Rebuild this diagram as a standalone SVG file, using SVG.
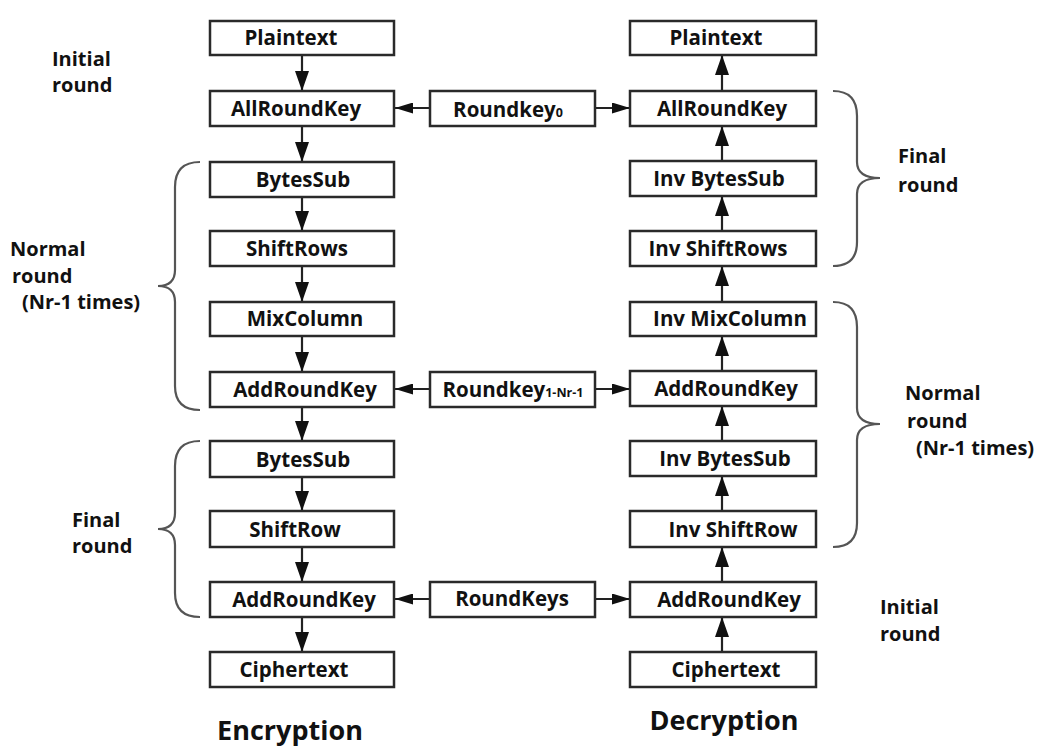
<svg xmlns="http://www.w3.org/2000/svg" width="1042" height="746" viewBox="0 0 1042 746">
<defs>
<style>
.box{fill:#fff;stroke:#2a2a2a;stroke-width:2.5}
.t{font-family:"Open Sans","Liberation Sans",sans-serif;font-weight:700;font-size:20.5px;fill:#111;text-anchor:middle}
.lb{font-family:"Open Sans","Liberation Sans",sans-serif;font-weight:700;font-size:20px;fill:#111}
.big{font-family:"Open Sans","Liberation Sans",sans-serif;font-weight:700;font-size:27px;fill:#111;text-anchor:middle}
.sub{font-size:12.5px}
.ln{stroke:#222;stroke-width:2.2;fill:none}
.brace{stroke:#555;stroke-width:2.2;fill:none}
</style>
<marker id="av" viewBox="0 0 20 14" refX="20" refY="7" markerWidth="20" markerHeight="14" markerUnits="userSpaceOnUse" orient="auto">
<path d="M0,0 L20,7 L0,14 Z" fill="#111"/>
</marker>
<marker id="ah" viewBox="0 0 18 11" refX="18" refY="5.5" markerWidth="18" markerHeight="11" markerUnits="userSpaceOnUse" orient="auto">
<path d="M0,0 L18,5.5 L0,11 Z" fill="#111"/>
</marker>
</defs>
<rect width="1042" height="746" fill="#fff"/>

<g id="connectors">
<line class="ln" x1="302" y1="55" x2="302" y2="91" marker-end="url(#av)"/>
<line class="ln" x1="302" y1="126" x2="302" y2="162" marker-end="url(#av)"/>
<line class="ln" x1="302" y1="197" x2="302" y2="231" marker-end="url(#av)"/>
<line class="ln" x1="302" y1="266" x2="302" y2="302" marker-end="url(#av)"/>
<line class="ln" x1="302" y1="336" x2="302" y2="372" marker-end="url(#av)"/>
<line class="ln" x1="302" y1="407" x2="302" y2="441" marker-end="url(#av)"/>
<line class="ln" x1="302" y1="477" x2="302" y2="511" marker-end="url(#av)"/>
<line class="ln" x1="302" y1="547" x2="302" y2="582" marker-end="url(#av)"/>
<line class="ln" x1="302" y1="617" x2="302" y2="652" marker-end="url(#av)"/>
<line class="ln" x1="722" y1="91" x2="722" y2="55" marker-end="url(#av)"/>
<line class="ln" x1="722" y1="161" x2="722" y2="126" marker-end="url(#av)"/>
<line class="ln" x1="722" y1="231" x2="722" y2="196" marker-end="url(#av)"/>
<line class="ln" x1="722" y1="302" x2="722" y2="266" marker-end="url(#av)"/>
<line class="ln" x1="722" y1="371" x2="722" y2="336" marker-end="url(#av)"/>
<line class="ln" x1="722" y1="441" x2="722" y2="406" marker-end="url(#av)"/>
<line class="ln" x1="722" y1="511" x2="722" y2="476" marker-end="url(#av)"/>
<line class="ln" x1="722" y1="582" x2="722" y2="547" marker-end="url(#av)"/>
<line class="ln" x1="722" y1="652" x2="722" y2="617" marker-end="url(#av)"/>
<line class="ln" x1="430" y1="108" x2="395" y2="108" marker-end="url(#ah)"/>
<line class="ln" x1="595" y1="108" x2="630" y2="108" marker-end="url(#ah)"/>
<line class="ln" x1="430" y1="389" x2="395" y2="389" marker-end="url(#ah)"/>
<line class="ln" x1="595" y1="389" x2="630" y2="389" marker-end="url(#ah)"/>
<line class="ln" x1="430" y1="599" x2="395" y2="599" marker-end="url(#ah)"/>
<line class="ln" x1="595" y1="599" x2="630" y2="599" marker-end="url(#ah)"/>
</g>

<g id="braces">
<path class="brace" d="M200,162 Q175,162 175,187 L175,270 Q175,286 158,286 Q175,286 175,302 L175,386 Q175,410 200,410"/>
<path class="brace" d="M200,441 Q175,441 175,466 L175,513 Q175,529 158,529 Q175,529 175,545 L175,593 Q175,617 200,617"/>
<path class="brace" d="M833,91 Q857,91 857,116 L857,162 Q857,178 880,178 Q857,178 857,194 L857,242 Q857,266 833,266"/>
<path class="brace" d="M833,302 Q857,302 857,327 L857,408 Q857,424 880,424 Q857,424 857,440 L857,523 Q857,547 833,547"/>
</g>

<g id="enc-plaintext"><rect class="box" x="210" y="21" width="184" height="34"/><text class="t" x="291" y="45">Plaintext</text></g>
<g id="enc-allroundkey"><rect class="box" x="210" y="91" width="184" height="35"/><text class="t" x="296" y="116">AllRoundKey</text></g>
<g id="enc-bytessub1"><rect class="box" x="210" y="162" width="184" height="35"/><text class="t" x="303" y="187">BytesSub</text></g>
<g id="enc-shiftrows"><rect class="box" x="210" y="231" width="184" height="35"/><text class="t" x="297" y="256">ShiftRows</text></g>
<g id="enc-mixcolumn"><rect class="box" x="210" y="302" width="184" height="34"/><text class="t" x="305" y="326">MixColumn</text></g>
<g id="enc-addroundkey1"><rect class="box" x="210" y="372" width="184" height="35"/><text class="t" x="305" y="397">AddRoundKey</text></g>
<g id="enc-bytessub2"><rect class="box" x="210" y="441" width="184" height="36"/><text class="t" x="303" y="467">BytesSub</text></g>
<g id="enc-shiftrow"><rect class="box" x="210" y="511" width="184" height="36"/><text class="t" x="295" y="537">ShiftRow</text></g>
<g id="enc-addroundkey2"><rect class="box" x="210" y="582" width="184" height="35"/><text class="t" x="304" y="607">AddRoundKey</text></g>
<g id="enc-ciphertext"><rect class="box" x="210" y="652" width="184" height="35"/><text class="t" x="294" y="677">Ciphertext</text></g>

<g id="key0"><rect class="box" x="430" y="91" width="165" height="35"/><text class="t" x="508" y="117">Roundkey<tspan class="sub">0</tspan></text></g>
<g id="key1"><rect class="box" x="430" y="372" width="165" height="35"/><text class="t" x="513" y="397">Roundkey<tspan class="sub">1-Nr-1</tspan></text></g>
<g id="keys"><rect class="box" x="430" y="582" width="165" height="35"/><text class="t" x="512" y="606">RoundKeys</text></g>

<g id="dec-plaintext"><rect class="box" x="630" y="21" width="186" height="34"/><text class="t" x="716" y="45">Plaintext</text></g>
<g id="dec-allroundkey"><rect class="box" x="630" y="91" width="186" height="35"/><text class="t" x="722" y="116">AllRoundKey</text></g>
<g id="dec-invbytessub1"><rect class="box" x="630" y="161" width="186" height="35"/><text class="t" x="719" y="186">Inv BytesSub</text></g>
<g id="dec-invshiftrows"><rect class="box" x="630" y="231" width="186" height="35"/><text class="t" x="718" y="256">Inv ShiftRows</text></g>
<g id="dec-invmixcolumn"><rect class="box" x="630" y="302" width="186" height="34"/><text class="t" x="730" y="326">Inv MixColumn</text></g>
<g id="dec-addroundkey1"><rect class="box" x="630" y="371" width="186" height="35"/><text class="t" x="726" y="396">AddRoundKey</text></g>
<g id="dec-invbytessub2"><rect class="box" x="630" y="441" width="186" height="35"/><text class="t" x="725" y="466">Inv BytesSub</text></g>
<g id="dec-invshiftrow"><rect class="box" x="630" y="511" width="186" height="36"/><text class="t" x="733" y="537">Inv ShiftRow</text></g>
<g id="dec-addroundkey2"><rect class="box" x="630" y="582" width="186" height="35"/><text class="t" x="729" y="607">AddRoundKey</text></g>
<g id="dec-ciphertext"><rect class="box" x="630" y="652" width="186" height="35"/><text class="t" x="726" y="677">Ciphertext</text></g>

<g id="labels">
<text class="lb" x="52" y="66">Initial</text>
<text class="lb" x="52" y="92">round</text>
<text class="lb" x="10" y="256">Normal</text>
<text class="lb" x="12" y="283">round</text>
<text class="lb" x="22" y="309">(Nr-1 times)</text>
<text class="lb" x="72" y="527">Final</text>
<text class="lb" x="72" y="553">round</text>
<text class="lb" x="898" y="163">Final</text>
<text class="lb" x="898" y="192">round</text>
<text class="lb" x="905" y="400">Normal</text>
<text class="lb" x="907" y="428">round</text>
<text class="lb" x="916" y="455">(Nr-1 times)</text>
<text class="lb" x="880" y="614">Initial</text>
<text class="lb" x="880" y="641">round</text>
<text class="big" x="290" y="740">Encryption</text>
<text class="big" x="724" y="730">Decryption</text>
</g>
</svg>
